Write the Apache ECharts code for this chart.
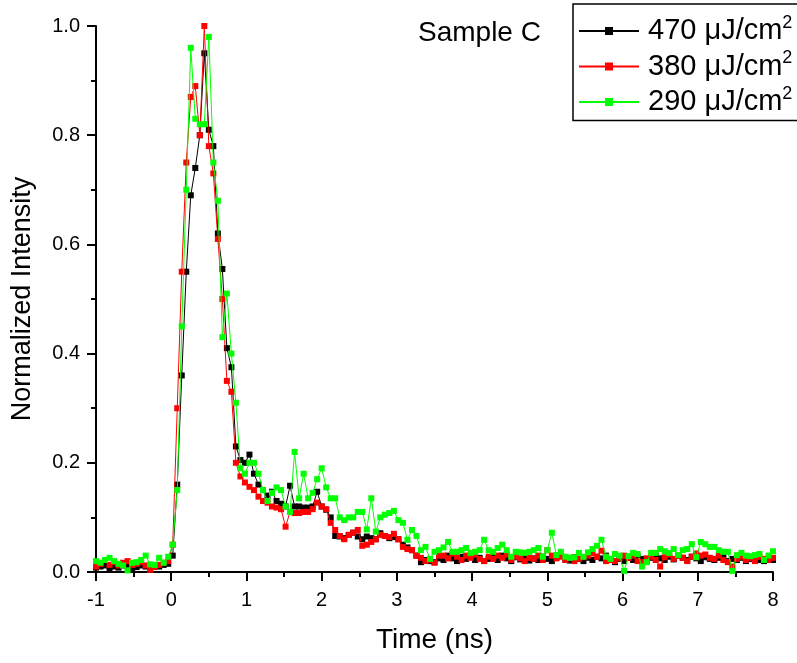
<!DOCTYPE html>
<html>
<head>
<meta charset="utf-8">
<script src="https://cdn.jsdelivr.net/npm/echarts@6/dist/echarts.min.js"></script>
<style>
  html, body { margin: 0; padding: 0; background: #fff; }
  #chart { width: 797px; height: 663px; }
</style>
</head>
<body>
<div id="chart"></div>
<script>
// ---- data ----
const timeNs = [
  -1.00,-0.94,-0.88,-0.82,-0.76,-0.70,-0.64,-0.58,-0.52,-0.46,
  -0.40,-0.34,-0.28,-0.22,-0.16,-0.10,-0.04,0.02,0.08,0.14,
  0.20,0.26,0.32,0.38,0.44,0.50,0.56,0.62,0.68,0.74,
  0.80,0.86,0.92,0.98,1.04,1.10,1.16,1.22,1.28,1.34,
  1.40,1.46,1.52,1.58,1.64,1.70,1.76,1.82,1.88,1.94,
  2.00,2.06,2.12,2.18,2.24,2.30,2.36,2.42,2.48,2.54,
  2.60,2.66,2.72,2.78,2.84,2.90,2.96,3.02,3.08,3.14,
  3.20,3.26,3.32,3.38,3.44,3.50,3.56,3.62,3.68,3.74,
  3.80,3.86,3.92,3.98,4.04,4.10,4.16,4.22,4.28,4.34,
  4.40,4.46,4.52,4.58,4.64,4.70,4.76,4.82,4.88,4.94,
  5.00,5.06,5.12,5.18,5.24,5.30,5.36,5.42,5.48,5.54,
  5.60,5.66,5.72,5.78,5.84,5.90,5.96,6.02,6.08,6.14,
  6.20,6.26,6.32,6.38,6.44,6.50,6.56,6.62,6.68,6.74,
  6.80,6.86,6.92,6.98,7.04,7.10,7.16,7.22,7.28,7.34,
  7.40,7.46,7.52,7.58,7.64,7.70,7.76,7.82,7.88,7.94,
  8.00
];

const fluence470 = [
  0.008,0.010,0.012,0.006,0.010,0.008,0.012,0.010,0.006,0.009,
  0.012,0.010,0.008,0.011,0.010,0.013,0.015,0.030,0.160,0.360,
  0.550,0.690,0.740,0.800,0.950,0.810,0.780,0.620,0.555,0.410,
  0.375,0.230,0.205,0.200,0.215,0.180,0.160,0.150,0.140,0.147,
  0.130,0.125,0.120,0.158,0.120,0.120,0.118,0.118,0.120,0.147,
  0.120,0.114,0.100,0.066,0.065,0.062,0.068,0.072,0.065,0.060,
  0.065,0.062,0.060,0.071,0.066,0.062,0.064,0.060,0.050,0.045,
  0.040,0.030,0.018,0.022,0.020,0.018,0.025,0.022,0.030,0.025,
  0.020,0.028,0.024,0.030,0.022,0.026,0.020,0.024,0.028,0.022,
  0.030,0.025,0.020,0.027,0.023,0.029,0.021,0.025,0.022,0.028,
  0.024,0.020,0.026,0.030,0.023,0.021,0.027,0.024,0.020,0.026,
  0.022,0.028,0.025,0.030,0.022,0.018,0.024,0.020,0.026,0.022,
  0.028,0.024,0.020,0.026,0.030,0.025,0.022,0.028,0.023,0.030,
  0.026,0.022,0.028,0.025,0.020,0.027,0.024,0.022,0.026,0.028,
  0.020,0.024,0.022,0.026,0.020,0.024,0.028,0.022,0.020,0.024,
  0.022
];

const fluence380 = [
  0.010,0.015,0.022,0.013,0.018,0.012,0.017,0.020,0.013,0.015,
  0.018,0.012,0.004,0.009,0.013,0.017,0.020,0.050,0.300,0.550,
  0.750,0.870,0.890,0.800,1.000,0.780,0.730,0.610,0.500,0.350,
  0.330,0.200,0.175,0.164,0.156,0.150,0.138,0.130,0.127,0.120,
  0.118,0.115,0.083,0.110,0.108,0.108,0.110,0.110,0.115,0.127,
  0.120,0.115,0.090,0.077,0.066,0.060,0.068,0.072,0.077,0.048,
  0.050,0.055,0.060,0.068,0.066,0.064,0.070,0.060,0.046,0.042,
  0.040,0.030,0.026,0.020,0.022,0.017,0.030,0.030,0.025,0.034,
  0.028,0.022,0.030,0.026,0.032,0.024,0.020,0.028,0.024,0.030,
  0.026,0.032,0.022,0.028,0.025,0.020,0.026,0.024,0.030,0.022,
  0.040,0.030,0.025,0.028,0.022,0.026,0.020,0.024,0.027,0.030,
  0.034,0.028,0.039,0.020,0.022,0.020,0.025,0.030,0.026,0.030,
  0.020,0.018,0.025,0.028,0.022,0.010,0.027,0.032,0.024,0.030,
  0.026,0.020,0.028,0.034,0.030,0.032,0.026,0.024,0.030,0.022,
  0.018,0.010,0.024,0.028,0.022,0.026,0.020,0.028,0.024,0.022,
  0.026
];

const fluence290 = [
  0.020,0.017,0.022,0.026,0.020,0.015,0.012,0.003,0.017,0.018,
  0.022,0.030,0.014,0.013,0.026,0.017,0.028,0.050,0.150,0.450,
  0.700,0.960,0.830,0.820,0.820,0.980,0.750,0.680,0.430,0.510,
  0.400,0.310,0.190,0.180,0.200,0.200,0.180,0.150,0.130,0.145,
  0.155,0.150,0.120,0.110,0.220,0.135,0.180,0.135,0.145,0.170,
  0.190,0.155,0.135,0.135,0.100,0.095,0.100,0.100,0.110,0.110,
  0.078,0.135,0.074,0.100,0.105,0.108,0.112,0.095,0.090,0.059,
  0.077,0.066,0.040,0.046,0.024,0.037,0.040,0.045,0.055,0.037,
  0.037,0.040,0.044,0.035,0.037,0.040,0.059,0.040,0.037,0.044,
  0.050,0.040,0.028,0.037,0.036,0.035,0.037,0.040,0.044,0.028,
  0.040,0.072,0.031,0.037,0.028,0.026,0.027,0.035,0.028,0.036,
  0.042,0.048,0.059,0.028,0.024,0.033,0.030,0.002,0.029,0.035,
  0.033,0.010,0.018,0.035,0.035,0.042,0.038,0.035,0.042,0.031,
  0.040,0.042,0.051,0.027,0.055,0.051,0.046,0.046,0.040,0.037,
  0.037,0.002,0.031,0.035,0.030,0.029,0.031,0.033,0.022,0.030,
  0.038
];

const seriesNames = ['470 μJ/cm2', '380 μJ/cm2', '290 μJ/cm2'];
const seriesValues = [fluence470, fluence380, fluence290];
const seriesColors = ['#000000', '#ff0000', '#00ff00'];

const xTitle = 'Time (ns)';
const yTitle = 'Normalized Intensity';
const annotation = 'Sample C';

// ---- chart ----
const FONT = "'Liberation Sans', Arial, sans-serif";

const chart = echarts.init(document.getElementById('chart'), null, { renderer: 'canvas' });

const series = seriesNames.map((name, k) => ({
  type: 'line',
  name: name,
  data: timeNs.map((t, i) => [t, seriesValues[k][i]]),
  symbol: 'rect',
  symbolSize: 6,
  showSymbol: true,
  lineStyle: { width: 1, color: seriesColors[k] },
  itemStyle: { color: seriesColors[k] },
  emphasis: { disabled: true },
  z: 2 + k
}));

const option = {
  animation: false,
  backgroundColor: '#ffffff',
  grid: { left: 96, right: 24, top: 26, bottom: 91, containLabel: false },
  title: {
    text: annotation,
    left: 418,
    top: 19,
    padding: 0,
    textStyle: { fontFamily: FONT, fontSize: 28, fontWeight: 'normal', color: '#000' }
  },
  legend: {
    data: seriesNames,
    orient: 'vertical',
    left: 573,
    top: 4,
    padding: [10, 40, 4, 5],
    itemWidth: 60,
    itemHeight: 10,
    itemGap: 4,
    borderColor: '#000',
    borderWidth: 1.5,
    backgroundColor: '#fff',
    selectedMode: false,
    formatter: (n) => '{b|' + n.slice(0, -1) + '}{s|2}',
    textStyle: {
      fontFamily: FONT,
      fontSize: 29,
      color: '#000',
      rich: {
        b: { fontFamily: FONT, fontSize: 29, lineHeight: 34, color: '#000', padding: [0, 0, 0, 4] },
        s: { fontFamily: FONT, fontSize: 18, lineHeight: 12, color: '#000', verticalAlign: 'top' }
      }
    }
  },
  xAxis: {
    type: 'value',
    min: -1,
    max: 8,
    interval: 1,
    name: xTitle,
    nameLocation: 'middle',
    nameGap: 54,
    nameTextStyle: { fontFamily: FONT, fontSize: 28, color: '#000' },
    axisLine: { onZero: false, lineStyle: { color: '#000', width: 2 } },
    axisTick: { show: true, inside: false, length: 9, lineStyle: { color: '#000', width: 2 } },
    minorTick: { show: true, splitNumber: 2, length: 5, lineStyle: { color: '#000', width: 2 } },
    splitLine: { show: false },
    axisLabel: { fontFamily: FONT, fontSize: 20, color: '#000', margin: 18 }
  },
  yAxis: {
    type: 'value',
    min: 0,
    max: 1,
    interval: 0.2,
    name: yTitle,
    nameLocation: 'middle',
    nameGap: 60,
    nameTextStyle: { fontFamily: FONT, fontSize: 27, color: '#000' },
    axisLine: { show: true, onZero: false, lineStyle: { color: '#000', width: 2 } },
    axisTick: { show: true, inside: false, length: 9, lineStyle: { color: '#000', width: 2 } },
    minorTick: { show: true, splitNumber: 2, length: 5, lineStyle: { color: '#000', width: 2 } },
    splitLine: { show: false },
    axisLabel: { fontFamily: FONT, fontSize: 20, color: '#000', margin: 16, formatter: (v) => v.toFixed(1) }
  },
  series: series
};

chart.setOption(option);
</script>
</body>
</html>
